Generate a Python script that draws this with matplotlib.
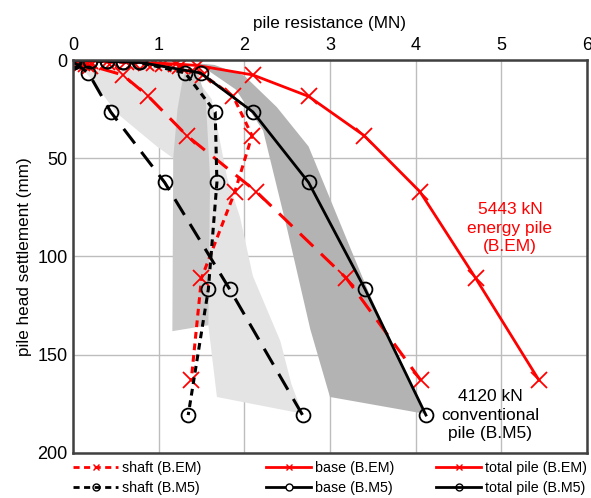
import matplotlib
matplotlib.use("Agg")
import matplotlib.pyplot as plt
from matplotlib.lines import Line2D

plt.rcParams['font.family'] = ['Liberation Sans', 'DejaVu Sans']

# ---- data (MN vs mm) ----
em_settle = [0, 0.4, 0.8, 1.2, 1.6, 2.0, 2.8, 7.6, 18.5, 38.5, 67, 111, 163]
em_total = [0, 0.2, 0.45, 0.7, 0.95, 1.2, 1.45, 2.1, 2.75, 3.4, 4.05, 4.7, 5.44]
em_shaft = [0, 0.18, 0.4, 0.62, 0.85, 1.05, 1.25, 1.52, 1.87, 2.09, 1.89, 1.5, 1.38]
em_base = [0, 0.02, 0.05, 0.08, 0.1, 0.15, 0.2, 0.58, 0.88, 1.33, 2.14, 3.19, 4.06]

m5_settle = [0, 0.3, 0.6, 0.9, 1.2, 6.6, 26.4, 62.3, 116.7, 180.7]
m5_total = [0, 0.2, 0.4, 0.58, 0.78, 1.49, 2.1, 2.75, 3.41, 4.12]
m5_shaft = [0, 0.2, 0.4, 0.58, 0.77, 1.31, 1.66, 1.68, 1.58, 1.345]
m5_base = [0, 0.0, 0.0, 0.0, 0.01, 0.18, 0.44, 1.07, 1.83, 2.68]

# shaded envelopes (resistance, settlement)
light_x = [0.1, 1.35, 1.62, 1.8, 1.95, 2.1, 2.42, 2.55, 2.68, 1.68, 1.58, 1.17, 0.98, 0.51, 0.22]
light_y = [4, 4, 20, 60, 80, 110, 143, 165, 180, 171.5, 135, 50, 44, 27, 10]
mid_x = [1.32, 1.45, 1.55, 1.6, 1.58, 1.16, 1.17, 1.22, 1.28]
mid_y = [5, 5, 20, 60, 135, 138, 50, 25, 10]
dark_x = [1.4, 1.65, 2.0, 2.38, 2.75, 3.25, 3.45, 4.1, 3.0, 2.77, 2.5, 2.22, 1.9, 1.6]
dark_y = [1.5, 2.5, 8, 24, 44, 97, 118, 180, 171.5, 137, 86, 36, 15, 6]

labels = ["shaft (B.EM)", "base (B.EM)", "total pile (B.EM)",
          "shaft (B.M5)", "base (B.M5)", "total pile (B.M5)"]

fig = plt.figure(figsize=(5.91, 4.98), dpi=100)
ax = fig.add_axes([0.1235, 0.0904, 0.8697, 0.7891])

ax.fill(light_x, light_y, color='#e4e4e4', lw=0, zorder=1)
ax.fill(mid_x, mid_y, color='#c9c9c9', lw=0, zorder=1.1)
ax.fill(dark_x, dark_y, color='#b3b3b3', lw=0, zorder=1.2)

red = '#ff0000'
ms_x = 11
ms_o = 10
# B.EM
ax.plot(em_shaft, em_settle, color=red, ls=(0, (2.2, 1.6)), lw=2.2,
        marker='x', ms=ms_x, mew=1.3, zorder=3)
ax.plot(em_base, em_settle, color=red, ls=(0, (6, 3.5)), lw=2.2,
        marker='x', ms=ms_x, mew=1.3, zorder=3)
ax.plot(em_total, em_settle, color=red, ls='-', lw=2.0,
        marker='x', ms=ms_x, mew=1.3, zorder=3)
# B.M5
ax.plot(m5_shaft, m5_settle, color='black', ls=(0, (2.2, 1.6)), lw=2.2,
        marker='o', ms=ms_o, mfc='none', mew=1.3, zorder=4)
ax.plot(m5_base, m5_settle, color='black', ls=(0, (6, 3.5)), lw=2.2,
        marker='o', ms=ms_o, mfc='none', mew=1.3, zorder=4)
ax.plot(m5_total, m5_settle, color='black', ls='-', lw=2.0,
        marker='o', ms=ms_o, mfc='none', mew=1.3, zorder=4)

ax.set_xlim(0, 6)
ax.set_ylim(200, 0)
ax.set_xticks(range(0, 7))
ax.set_yticks([0, 50, 100, 150, 200])
ax.xaxis.tick_top()
ax.xaxis.set_label_position('top')
ax.tick_params(axis='both', length=0, labelsize=13, pad=4, colors='black')
ax.grid(True, color='#bdbdbd', lw=1.0, zorder=0)
ax.set_axisbelow(True)
for s in ax.spines.values():
    s.set_color('#404040')
    s.set_linewidth(1.8)
    s.set_zorder(5)
ax.set_xlabel("pile resistance (MN)", fontsize=12.3, labelpad=7)
ax.set_ylabel("pile head settlement (mm)", fontsize=12.3, labelpad=4)

ax.text(5.1, 85.5, "5443 kN\nenergy pile\n(B.EM)", color=red, fontsize=12.5,
        ha='center', va='center', linespacing=1.27, zorder=6)
ax.text(4.87, 180.7, "4120 kN\nconventional\npile (B.M5)", color='black',
        fontsize=12.5, ha='center', va='center', linespacing=1.27, zorder=6)

h_shaft_em = Line2D([], [], color=red, ls=(0, (2.2, 1.6)), lw=2, marker='x', ms=5, mew=1)
h_shaft_m5 = Line2D([], [], color='black', ls=(0, (2.2, 1.6)), lw=2, marker='o', ms=5, mfc='none', mew=1)
h_base_em = Line2D([], [], color=red, ls='-', lw=2, marker='x', ms=5, mew=1)
h_base_m5 = Line2D([], [], color='black', ls='-', lw=2, marker='o', ms=5, mfc='white', mew=1)
h_total_em = Line2D([], [], color=red, ls='-', lw=2, marker='x', ms=5, mew=1)
h_total_m5 = Line2D([], [], color='black', ls='-', lw=2, marker='o', ms=5, mfc='none', mew=1)

columns = [
    ([h_shaft_em, h_shaft_m5], [labels[0], labels[3]], 73),
    ([h_base_em, h_base_m5], [labels[1], labels[4]], 266),
    ([h_total_em, h_total_m5], [labels[2], labels[5]], 436),
]
W, H = 591, 498
for hs, ls_, xpx in columns:
    fig.legend(hs, ls_, loc='lower left', bbox_to_anchor=(xpx / W, 3 / H),
               frameon=False, fontsize=10.3, handlelength=3.15, handletextpad=0.28,
               labelspacing=0.45, borderaxespad=0, borderpad=0)

fig.savefig("out.png", dpi=100)
